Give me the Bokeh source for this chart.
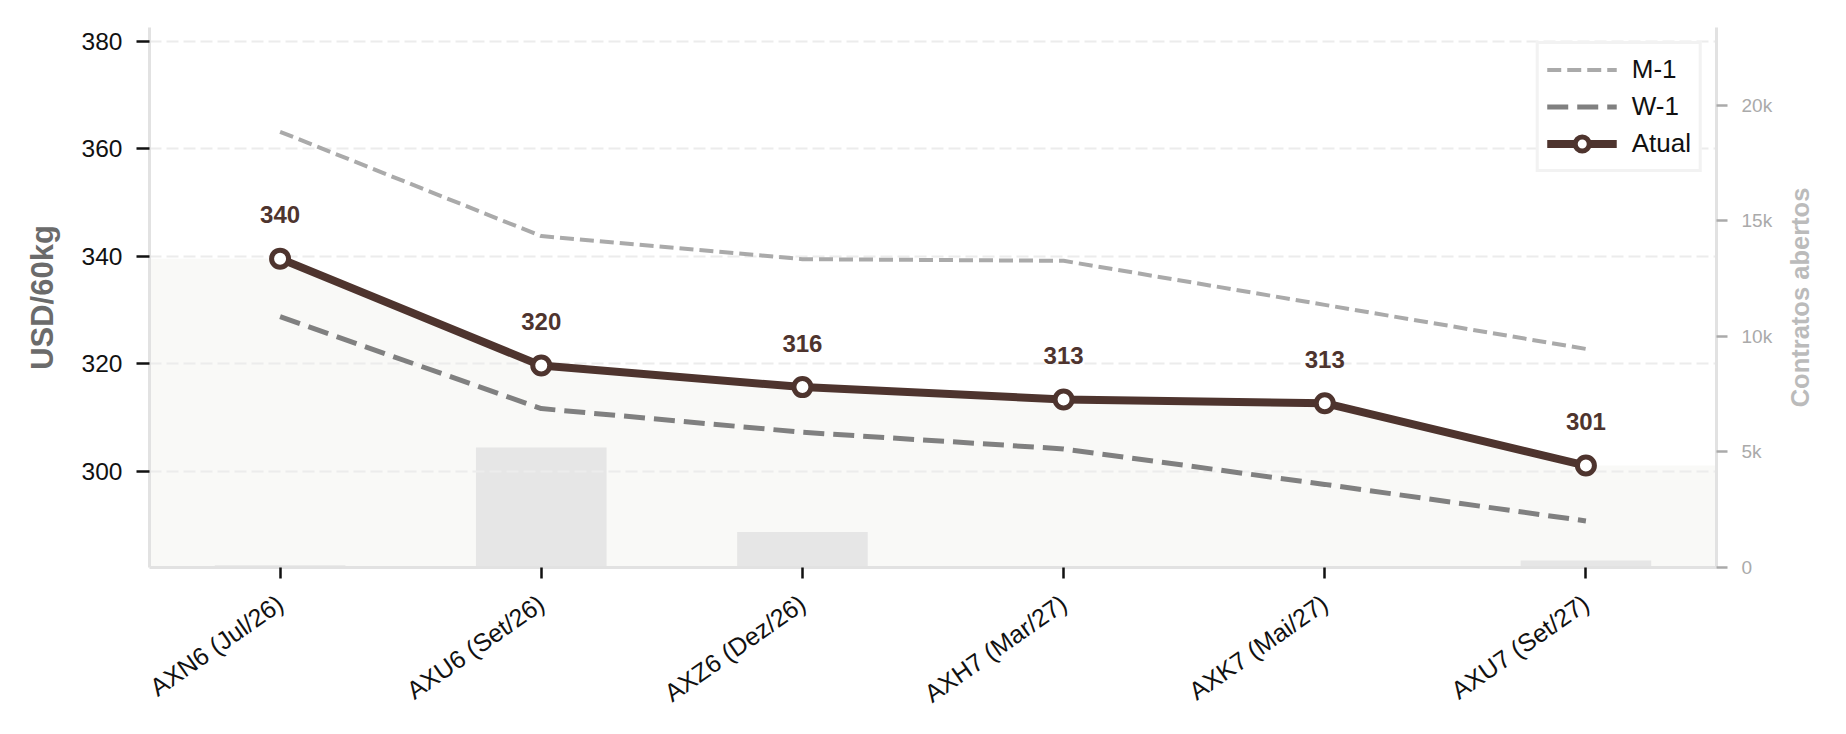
import math
from bokeh.plotting import figure
from bokeh.layouts import row
from bokeh.models import Range1d, LinearAxis, FixedTicker, Legend, LegendItem
from bokeh.core.properties import value
from bokeh.embed import file_html
from bokeh.resources import INLINE

# ---------------- data ----------------
categories = ["AXN6 (Jul/26)", "AXU6 (Set/26)", "AXZ6 (Dez/26)",
              "AXH7 (Mar/27)", "AXK7 (Mai/27)", "AXU7 (Set/27)"]
atual = [339.6, 319.7, 315.7, 313.4, 312.7, 301.1]
w1 = [328.8, 311.7, 307.3, 304.2, 297.6, 290.8]
m1 = [363.2, 343.8, 339.5, 339.2, 331.0, 322.8]
open_interest = [100, 5190, 1530, 0, 0, 300]
price_ticks = [300, 320, 340, 360, 380]
oi_ticks = [0, 5000, 10000, 15000, 20000]
oi_tick_labels = ["0", "5k", "10k", "15k", "20k"]
y_label = "USD/60kg"
oi_label = "Contratos abertos"
series_names = ["M-1", "W-1", "Atual"]

FONT = "Liberation Sans"
BROWN = "#4e342e"

x = list(range(len(categories)))
y_lo, y_hi = 282.14, 382.6
oi_hi = max(open_interest) * 4.5

p = figure(width=1782, height=734, output_backend="svg", toolbar_location=None,
           x_range=Range1d(-0.5, len(categories) - 0.5), y_range=Range1d(y_lo, y_hi),
           min_border_left=149, min_border_right=66, min_border_top=27, min_border_bottom=167)
p.extra_y_ranges = {"oi": Range1d(0, oi_hi)}
p.outline_line_color = None
p.background_fill_color = "white"
p.border_fill_color = "white"
p.xgrid.grid_line_color = None
p.ygrid.grid_line_color = "#ececec"
p.ygrid.grid_line_width = 2
p.ygrid.grid_line_dash = "12 5"
p.ygrid.ticker = FixedTicker(ticks=price_ticks)

# shaded area under the current curve
fx = [x[0] - 0.5] + x + [x[-1] + 0.5]
fy = [atual[0]] + atual + [atual[-1]]
p.varea(x=fx, y1=[y_lo - 10] * len(fx), y2=fy, fill_color="#e7e7df", fill_alpha=0.25,
        level="underlay")

# open interest bars (right axis)
p.vbar(x=x, top=open_interest, bottom=0, width=0.5, y_range_name="oi",
       fill_color="#e6e6e6", line_color=None, level="underlay")

# curves
r_m1 = p.line(x, m1, line_color="#aaaaaa", line_width=4, line_dash="14 6")
r_w1 = p.line(x, w1, line_color="#808080", line_width=5, line_dash="21 9")
r_at = p.line(x, atual, line_color=BROWN, line_width=8)
r_sc = p.scatter(x, atual, size=17, marker="circle", fill_color="white",
                 line_color=BROWN, line_width=5)

labels_txt = [f"{v:.0f}" for v in atual]
p.text(x=x, y=atual, text=labels_txt, text_font=value(FONT), text_font_size="24px",
       text_font_style="bold", text_color=BROWN, text_align="center",
       text_baseline="middle", y_offset=-44)

# x axis
xa = p.xaxis[0]
xa.ticker = FixedTicker(ticks=x)
xa.major_label_overrides = {i: c for i, c in enumerate(categories)}
xa.major_label_orientation = math.radians(35)
xa.major_label_text_font = FONT
xa.major_label_text_font_size = "25px"
xa.major_label_text_color = "#111111"
xa.major_tick_out = 11
xa.major_tick_in = 0
xa.major_tick_line_color = "#111111"
xa.major_tick_line_width = 2.5
xa.minor_tick_line_color = None
xa.axis_line_color = "#e2e2e2"
xa.axis_line_width = 3
xa.major_label_standoff = 22

# left axis
ya = p.yaxis[0]
ya.ticker = FixedTicker(ticks=price_ticks)
ya.major_label_text_font = FONT
ya.major_label_text_font_size = "24.5px"
ya.major_label_text_color = "#111111"
ya.major_tick_out = 13
ya.major_tick_in = 0
ya.major_tick_line_color = "#111111"
ya.major_tick_line_width = 2.5
ya.minor_tick_line_color = None
ya.axis_line_color = "#e2e2e2"
ya.axis_line_width = 3
ya.major_label_standoff = 14
ya.axis_label = y_label
ya.axis_label_text_font = FONT
ya.axis_label_text_font_size = "31px"
ya.axis_label_text_font_style = "bold"
ya.axis_label_text_color = "#6b6b6b"
ya.axis_label_standoff = 19

# right axis (open interest)
ra = LinearAxis(y_range_name="oi", ticker=FixedTicker(ticks=oi_ticks),
                major_label_overrides=dict(zip(oi_ticks, oi_tick_labels)))
ra.major_label_text_font = FONT
ra.major_label_text_font_size = "19px"
ra.major_label_text_color = "#aaaaaa"
ra.major_tick_out = 11
ra.major_tick_in = 0
ra.major_tick_line_color = "#aaaaaa"
ra.major_tick_line_width = 2.5
ra.minor_tick_line_color = None
ra.axis_line_color = "#e2e2e2"
ra.axis_line_width = 3
ra.major_label_standoff = 14
p.add_layout(ra, "right")

legend = Legend(items=[LegendItem(label=series_names[0], renderers=[r_m1]),
                       LegendItem(label=series_names[1], renderers=[r_w1]),
                       LegendItem(label=series_names[2], renderers=[r_at, r_sc])],
                location="top_right")
legend.label_text_font = FONT
legend.label_text_font_size = "26px"
legend.label_text_color = "#111111"
legend.glyph_width = 70
legend.glyph_height = 35
legend.label_height = 35
legend.label_standoff = 15
legend.padding = 8
legend.spacing = 2
legend.margin = 14
legend.border_line_color = "#e5e5e5"
legend.border_line_width = 3
legend.background_fill_color = "white"
legend.background_fill_alpha = 1
p.add_layout(legend)

# narrow companion panel carrying the right-hand axis title (reads bottom-to-top)
p2 = figure(width=64, height=734, output_backend="svg", toolbar_location=None,
            x_range=Range1d(0, 1), y_range=Range1d(0, 1),
            min_border_left=45, min_border_right=0, min_border_top=27, min_border_bottom=163)
p2.outline_line_color = None
p2.background_fill_color = "white"
p2.border_fill_color = "white"
p2.grid.visible = False
p2.xaxis.visible = False
ax2 = p2.yaxis[0]
ax2.ticker = FixedTicker(ticks=[])
ax2.axis_line_color = None
ax2.major_tick_line_color = None
ax2.minor_tick_line_color = None
ax2.axis_label = oi_label
ax2.axis_label_text_font = FONT
ax2.axis_label_text_font_size = "25.5px"
ax2.axis_label_text_font_style = "bold"
ax2.axis_label_text_color = "#bbbbbb"
ax2.axis_label_standoff = 16

layout = row(p, p2, spacing=0)
open("out.html", "w").write(file_html(layout, INLINE))
